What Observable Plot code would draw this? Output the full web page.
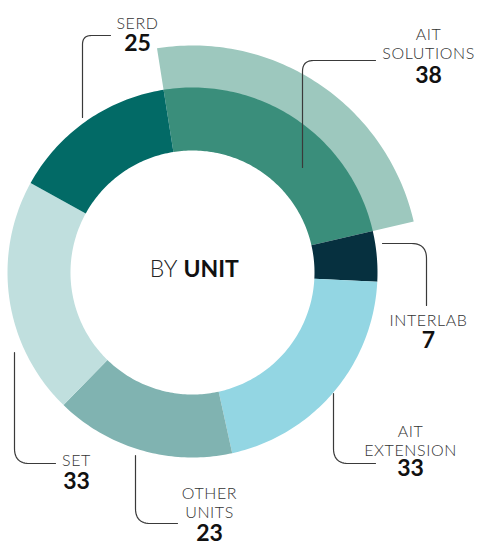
<!DOCTYPE html>
<html><head><meta charset="utf-8">
<script src="https://cdn.jsdelivr.net/npm/d3@7"></script>
<script src="https://cdn.jsdelivr.net/npm/@observablehq/plot@0.6"></script>
<style>
html,body{margin:0;padding:0;background:#fff;}
#chart svg{display:block;}
.names text{letter-spacing:0.6px;}
</style></head><body><div id="chart"></div>
<script>
// ---- data ----
const units = ["AIT\nSOLUTIONS", "INTERLAB", "AIT\nEXTENSION", "OTHER\nUNITS", "SET", "SERD"];
const counts = [38, 7, 33, 23, 33, 25];          // numbers printed on the labels
const arcShares = [38, 7, 33, 25, 33, 23];       // slice sizes as drawn in the picture
const colors = ["#3a8e7b", "#06303f", "#93d6e3", "#80b3b1", "#c0dfde", "#026a66"];
const highlightColor = "#9dc8be";
const titleParts = ["BY", "UNIT"];

// ---- layout ----
const W = 478, H = 542, cx = 192, cy = 272;
const rInner = 122, rOuter = 185, rExplode = 227;
const startDeg = -9;
const rad = Math.PI / 180;

const pie = d3.pie().sort(null).value(d => d)
  .startAngle(startDeg * rad).endAngle((startDeg + 360) * rad);
const arcs = pie(arcShares);

function band(key, a0, a1, r0, r1) {
  const n = Math.max(4, Math.ceil((a1 - a0) / rad));
  const pts = [];
  for (let i = 0; i <= n; i++) { const a = a0 + (a1 - a0) * i / n; pts.push({key, x: r1 * Math.sin(a), y: r1 * Math.cos(a)}); }
  for (let i = n; i >= 0; i--) { const a = a0 + (a1 - a0) * i / n; pts.push({key, x: r0 * Math.sin(a), y: r0 * Math.cos(a)}); }
  return pts;
}
const polys = [];
polys.push(...band("highlight", arcs[0].startAngle, arcs[0].endAngle, rOuter - 1, rExplode));
arcs.forEach((a, i) => polys.push(...band(units[i], a.startAngle, a.endAngle, rInner, rOuter)));

// leader elbows (chart coords relative to centre, y up): start, corner, end, corner radius
const leaders = [
  {unit: 5, p: [[-82, 237], [-110, 237], [-110, 155]], r: 9},
  {unit: 0, p: [[183, 212], [110, 212], [110, 105]], r: 11},
  {unit: 1, p: [[190, 29], [234, 29], [234, -33]], r: 15},
  {unit: 2, p: [[141, -121], [141, -191], [183, -191]], r: 15},
  {unit: 4, p: [[-178, -80], [-178, -191], [-137, -191]], r: 15},
  {unit: 3, p: [[-57, -183], [-57, -251], [-15, -251]], r: 15}
];
// label anchors: centre x, baseline of last name line, baseline of number
const labelPos = [
  {x: 236, yName: 214, yNum: 190},
  {x: 236, yName: -53, yNum: -75},
  {x: 218, yName: -183, yNum: -203},
  {x: 17, yName: -245, yNum: -268},
  {x: -116, yName: -193, yNum: -216},
  {x: -55, yName: 244, yNum: 222}
];

function elbow(id, [a, c, b], r) {
  const d1 = Math.hypot(c[0] - a[0], c[1] - a[1]), d2 = Math.hypot(b[0] - c[0], b[1] - c[1]);
  const s = [c[0] + (a[0] - c[0]) * r / d1, c[1] + (a[1] - c[1]) * r / d1];
  const e = [c[0] + (b[0] - c[0]) * r / d2, c[1] + (b[1] - c[1]) * r / d2];
  const pts = [{id, x: a[0], y: a[1]}];
  for (let i = 0; i <= 12; i++) {
    const t = i / 12, u = 1 - t;
    pts.push({id, x: u*u*s[0] + 2*u*t*c[0] + t*t*e[0], y: u*u*s[1] + 2*u*t*c[1] + t*t*e[1]});
  }
  pts.push({id, x: b[0], y: b[1]});
  return pts;
}
const leaderPts = leaders.flatMap((l, i) => elbow(i, l.p, l.r));

const labels = units.map((u, i) => ({name: u, count: String(counts[i]), ...labelPos[i]}));

const font = "Lato, 'Open Sans', sans-serif";
const chart = Plot.plot({
  width: W, height: H,
  margin: 0,
  x: {domain: [-cx, W - cx], axis: null},
  y: {domain: [cy - H, cy], axis: null},
  color: {domain: ["highlight", ...units], range: [highlightColor, ...colors]},
  style: {background: "#fff", fontFamily: font},
  marks: [
    Plot.line(polys, {x: "x", y: "y", z: "key", fill: "key", stroke: "none", curve: "linear-closed"}),
    Plot.line(leaderPts, {x: "x", y: "y", z: "id", stroke: "#3a3a3a", strokeWidth: 1.2}),
    Plot.text(labels, {x: "x", y: "yName", text: "name", lineAnchor: "bottom", lineHeight: 1.13,
      fontSize: 16, fontWeight: 300, fill: "#333", textAnchor: "middle", className: "names"}),
    Plot.text(labels, {x: "x", y: "yNum", text: "count", lineAnchor: "bottom",
      fontSize: 23, fontWeight: 700, fill: "#111", textAnchor: "middle"}),
    Plot.text([titleParts[0]], {x: () => -12, y: () => -4, text: d => d, dx: -3, lineAnchor: "bottom",
      textAnchor: "end", fontSize: 23, fontWeight: 300, fill: "#222"}),
    Plot.text([titleParts[1]], {x: () => -12, y: () => -4, text: d => d, dx: 3, lineAnchor: "bottom",
      textAnchor: "start", fontSize: 23, fontWeight: 700, fill: "#111"})
  ]
});
document.getElementById("chart").appendChild(chart);
</script>
</body></html>
